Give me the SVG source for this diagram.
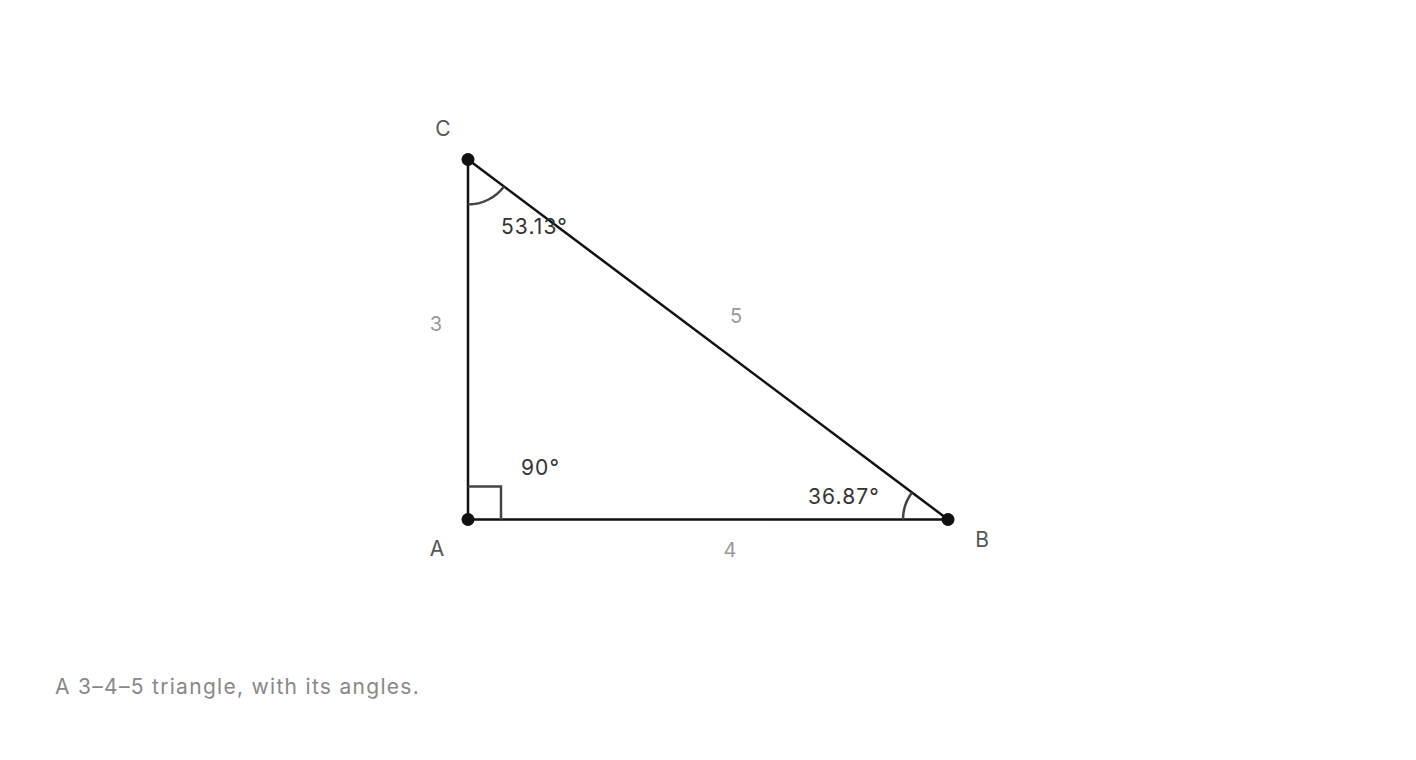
<svg xmlns="http://www.w3.org/2000/svg" width="1416" height="760" viewBox="0 0 1416 760">
<style>
text{font-family:Inter,"Liberation Sans",Arial,sans-serif}
.side{stroke:#111;stroke-width:2.5;fill:none;stroke-linecap:round}
.mark{stroke:#444;stroke-width:2.5;fill:none}
.pt{fill:#111}
.vl{font-size:21px;fill:#555}
.al{font-size:21px;fill:#333;letter-spacing:1.1px}
.sl{font-size:20px;fill:#999}
.cap{font-size:21px;fill:#888;letter-spacing:1.3px}
</style>
<rect width="1416" height="760" fill="#fff"/>
<g id="connectors">
<line class="side" x1="468" y1="519.5" x2="948" y2="519.5"/>
<line class="side" x1="468" y1="519.5" x2="468" y2="159.5"/>
<line class="side" x1="468" y1="159.5" x2="948" y2="519.5"/>
</g>
<g id="marks">
<polyline class="mark" points="468,486.5 501,486.5 501,519.5"/>
<path class="mark" d="M468,204.5 A45,45 0 0 0 504,186.5"/>
<path class="mark" d="M903,519.5 A45,45 0 0 1 912,492.5"/>
</g>
<g id="A"><circle class="pt" cx="468" cy="519.5" r="6.5"/><text class="vl" x="437" y="556" text-anchor="middle">A</text><text class="al" x="521" y="475">90°</text></g>
<g id="B"><circle class="pt" cx="948" cy="519.5" r="6.5"/><text class="vl" x="982" y="547" text-anchor="middle">B</text><text class="al" x="808" y="504">36.87°</text></g>
<g id="C"><circle class="pt" cx="468" cy="159.5" r="6.5"/><text class="vl" x="443" y="136" text-anchor="middle">C</text><text class="al" x="501" y="234">53.13°</text></g>
<g id="side-labels">
<text class="sl" x="436" y="331" text-anchor="middle">3</text>
<text class="sl" x="736" y="323" text-anchor="middle">5</text>
<text class="sl" x="730" y="557" text-anchor="middle">4</text>
</g>
<text class="cap" x="55" y="694">A 3–4–5 triangle, with its angles.</text>
</svg>
